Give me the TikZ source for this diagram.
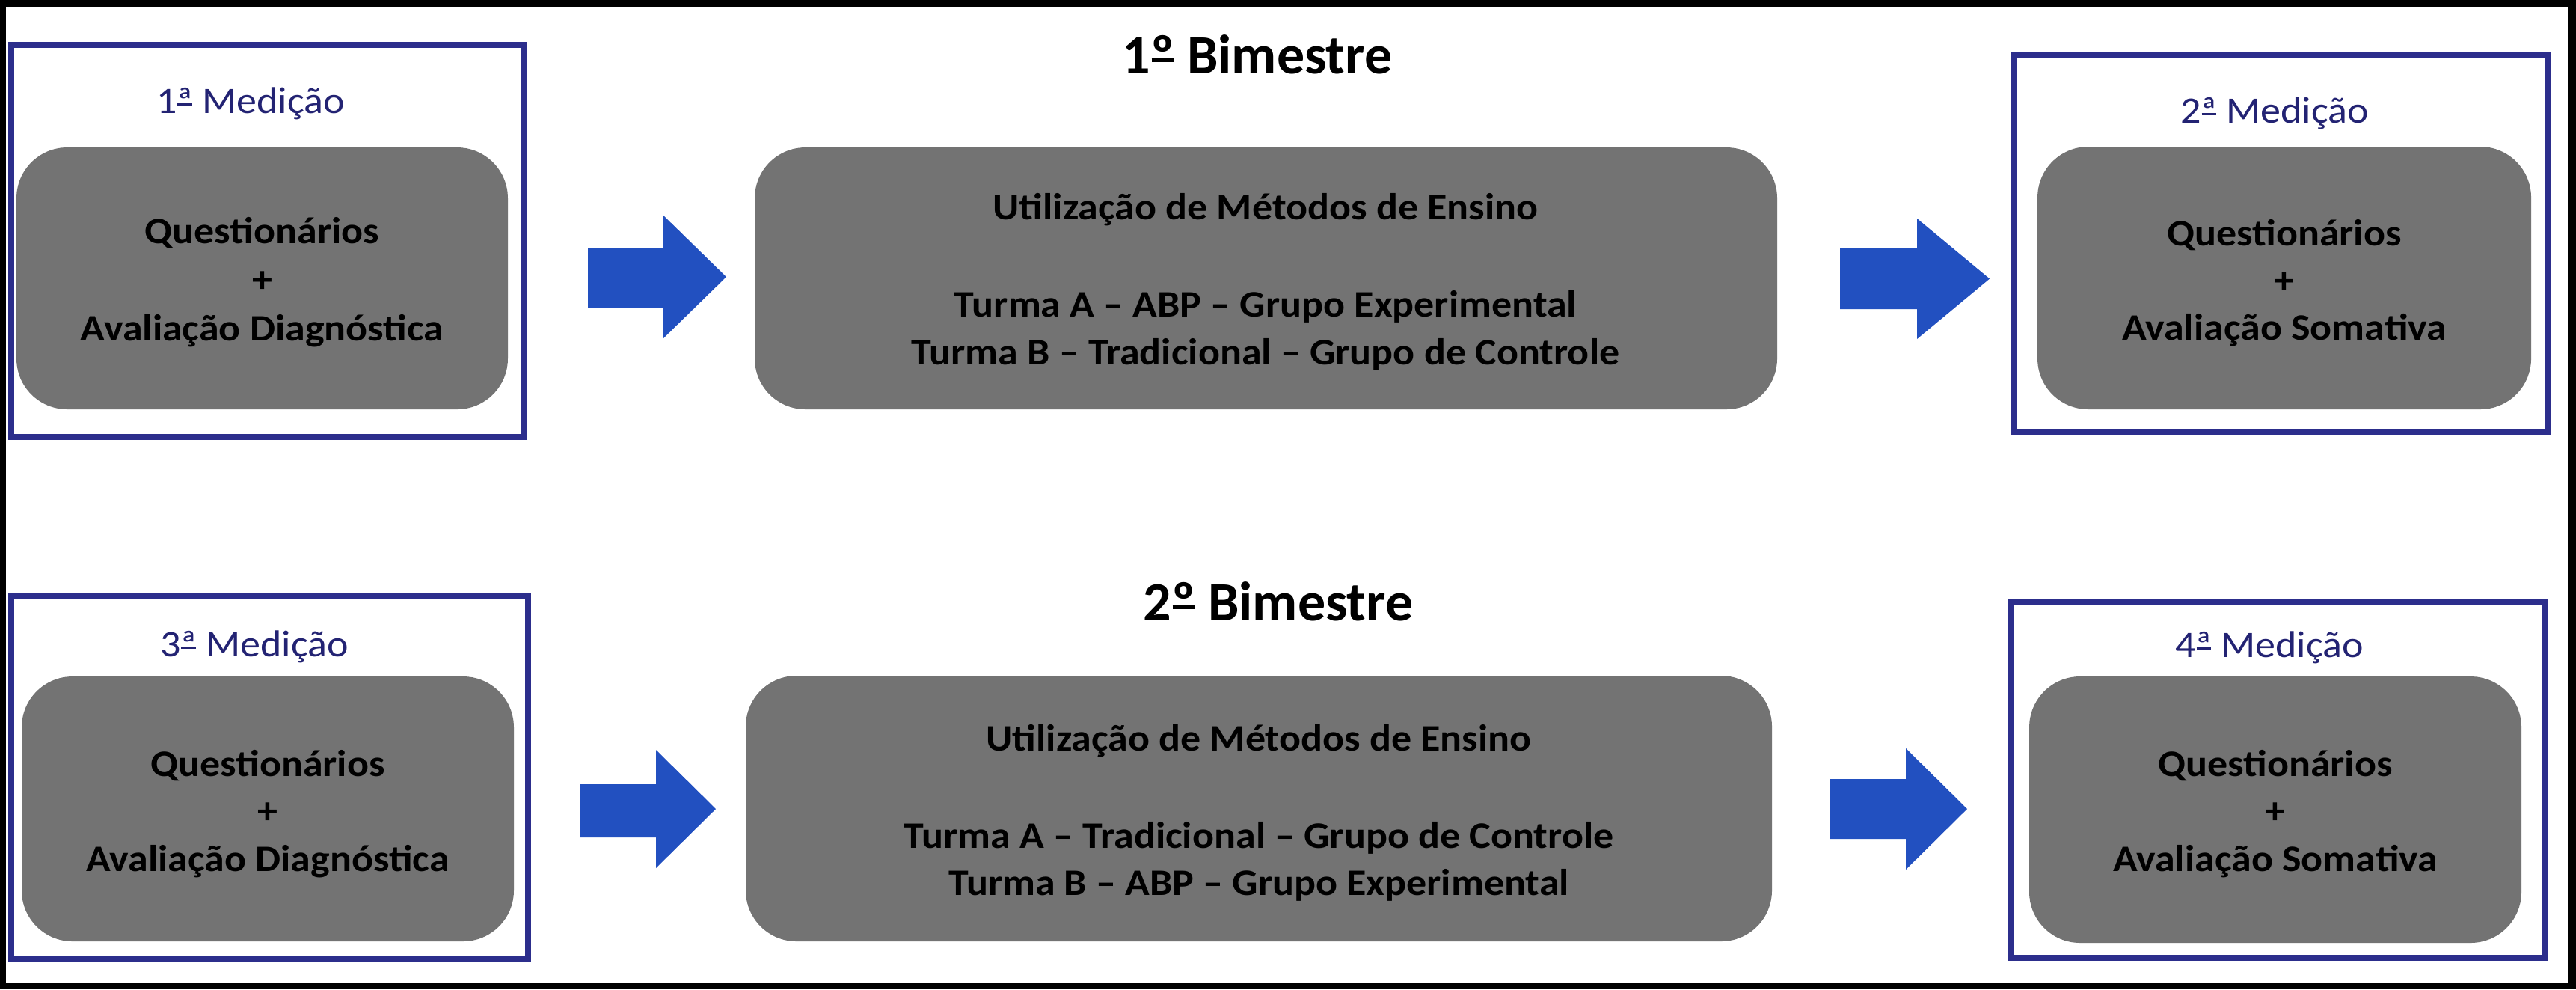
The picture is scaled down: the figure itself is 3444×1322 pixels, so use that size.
\documentclass[tikz,border=0pt]{standalone}
\usepackage{fontspec}
\setmainfont{Carlito}[FakeStretch=1.08]
\newfontfamily\titlefont{Carlito}
\definecolor{framenavy}{RGB}{44,46,140}
\definecolor{labelnavy}{RGB}{35,35,115}
\definecolor{arrowblue}{RGB}{34,80,192}
\definecolor{boxgray}{RGB}{115,115,115}
\newcommand\ordmark[1]{\setbox0=\hbox{#1}\leavevmode\rlap{\kern0.02em\rule[0.2em]{\dimexpr\wd0-0.04em\relax}{0.065em}}\box0\relax}
\begin{document}
\begin{tikzpicture}[x=0.25pt,y=-0.25pt,
  frm/.style={draw=framenavy,line width=2pt,inner sep=0pt,outer sep=0pt},
  gbox/.style={fill=boxgray,rounded corners=17pt,inner sep=0pt,outer sep=0pt},
  btxt/.style={font=\bfseries\fontsize{12.5}{15}\selectfont,anchor=base,inner sep=0pt},
  mtxt/.style={font=\fontsize{12.5}{15}\selectfont,text=labelnavy,anchor=base,inner sep=0pt},
  ttl/.style={font=\titlefont\bfseries\fontsize{18.5}{22}\selectfont,anchor=base,inner sep=0pt},
  barrow/.style={fill=arrowblue}]
% page background with black border
\fill[black] (0,0) rectangle (3444,1322);
\fill[white] (8,9) rectangle (3433,1313);
\useasboundingbox (0,0) rectangle (3444,1322);

% frames
\node[frm,minimum width=171.25pt,minimum height=131pt] (f1) at (357.5,322) {};
\node[frm,minimum width=178.75pt,minimum height=125.75pt] (f2) at (3049.5,325.5) {};
\node[frm,minimum width=172.75pt,minimum height=121.5pt] (f3) at (360.5,1039) {};
\node[frm,minimum width=178.5pt,minimum height=118.75pt] (f4) at (3045,1042.5) {};

% grey boxes
\node[gbox,minimum width=164.25pt,minimum height=87.5pt] (g1) at (350.5,372) {};
\node[gbox,minimum width=341.75pt,minimum height=87.5pt] (g2) at (1692.5,372) {};
\node[gbox,minimum width=165pt,minimum height=87.75pt] (g3) at (3054,371.5) {};
\node[gbox,minimum width=164.5pt,minimum height=88.5pt] (g4) at (358,1081) {};
\node[gbox,minimum width=343pt,minimum height=88.75pt] (g5) at (1683,1080.5) {};
\node[gbox,minimum width=164.5pt,minimum height=89pt] (g6) at (3042,1082) {};

% titles
\node[ttl] (t1) at (1681,98) {1\ordmark{º} Bimestre};
\node[ttl] (t2) at (1709,829) {2\ordmark{º} Bimestre};

% measurement labels
\node[mtxt] (m1) at (335,151) {1\ordmark{ª} Medição};
\node[mtxt] (m2) at (3041,164) {2\ordmark{ª} Medição};
\node[mtxt] (m3) at (340,877) {3\ordmark{ª} Medição};
\node[mtxt] (m4) at (3034,878) {4\ordmark{ª} Medição};

% box 1
\node[btxt] (g1a) at (350.5,325) {Questionários};
\node[btxt] (g1b) at (350.5,390) {+};
\node[btxt] (g1c) at (350.5,455) {Avaliação Diagnóstica};
% box 2
\node[btxt] (g2a) at (1692,293) {Utilização de Métodos de Ensino};
\node[btxt] (g2b) at (1692,423) {Turma A – ABP – Grupo Experimental};
\node[btxt] (g2c) at (1692,487) {Turma B – Tradicional – Grupo de Controle};
% box 3
\node[btxt] (g3a) at (3054,328) {Questionários};
\node[btxt] (g3b) at (3054,391) {+};
\node[btxt] (g3c) at (3054,454) {Avaliação Somativa};
% box 4
\node[btxt] (g4a) at (358,1037) {Questionários};
\node[btxt] (g4b) at (358,1100.5) {+};
\node[btxt] (g4c) at (358,1164) {Avaliação Diagnóstica};
% box 5
\node[btxt] (g5a) at (1683,1003.5) {Utilização de Métodos de Ensino};
\node[btxt] (g5b) at (1683,1133) {Turma A – Tradicional – Grupo de Controle};
\node[btxt] (g5c) at (1683,1196.5) {Turma B – ABP – Grupo Experimental};
% box 6
\node[btxt] (g6a) at (3042,1037) {Questionários};
\node[btxt] (g6b) at (3042,1100.5) {+};
\node[btxt] (g6c) at (3042,1164) {Avaliação Somativa};

% block arrows
\fill[barrow] (786,332) -- (886,332) -- (886,287) -- (971,370) -- (886,453) -- (886,411) -- (786,411) -- cycle;
\fill[barrow] (2460,332) -- (2563,332) -- (2563,292) -- (2660,372.5) -- (2563,453) -- (2563,413) -- (2460,413) -- cycle;
\fill[barrow] (775,1048) -- (877,1048) -- (877,1002) -- (957,1081) -- (877,1160) -- (877,1119) -- (775,1119) -- cycle;
\fill[barrow] (2447,1041) -- (2548,1041) -- (2548,1000) -- (2630,1081) -- (2548,1162) -- (2548,1121) -- (2447,1121) -- cycle;
\end{tikzpicture}
\end{document}
